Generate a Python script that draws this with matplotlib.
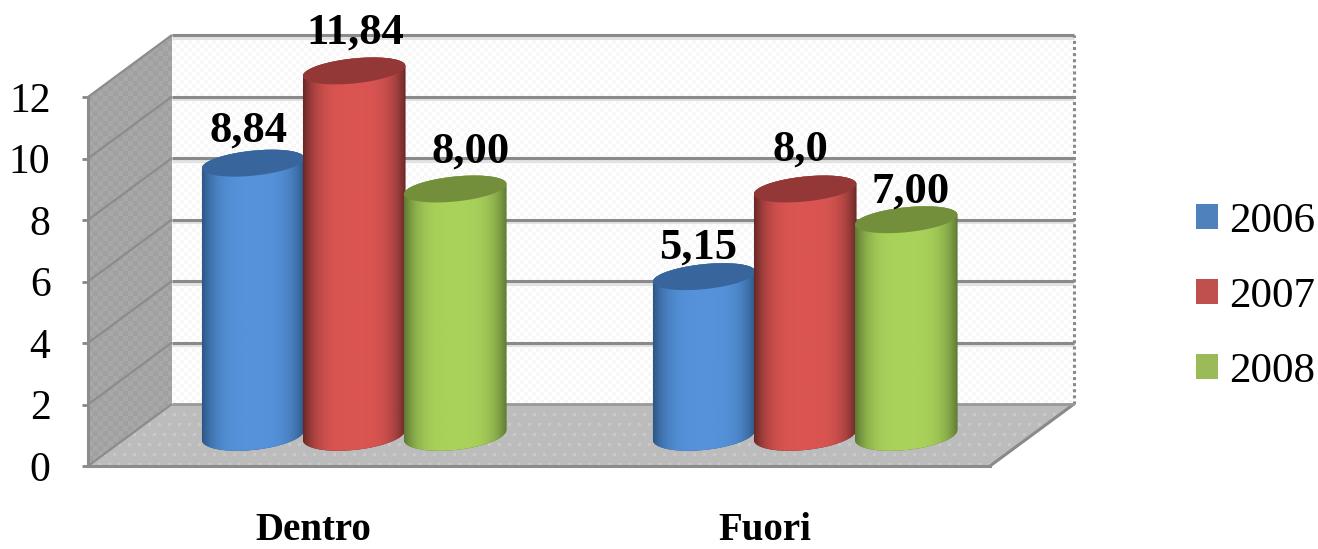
import numpy as np
import matplotlib
matplotlib.use("Agg")
import matplotlib.pyplot as plt
from matplotlib.colors import LinearSegmentedColormap
from matplotlib.patches import Patch, PathPatch, Polygon
from matplotlib.path import Path
from matplotlib.transforms import IdentityTransform

plt.rcParams["font.family"] = "Liberation Serif"

# Chart data
categories = ["Dentro", "Fuori"]
years = ["2006", "2007", "2008"]
values_2006 = [8.84, 5.15]
values_2007 = [11.84, 8.0]
values_2008 = [8.00, 7.00]
labels_2006 = ["8,84", "5,15"]
labels_2007 = ["11,84", "8,0"]
labels_2008 = ["8,00", "7,00"]
y_ticks = [0, 2, 4, 6, 8, 10, 12]

# Styling of each series: swatch, cap, and body shading from rim to centre
swatch = ["#4f81bd", "#c0504d", "#9bbb59"]
cap = ["#37659c", "#933837", "#748f3c"]
rim = ["#2c5685", "#672826", "#5d7833"]
core = ["#5592da", "#da5552", "#a9d25b"]
# Small per-label (dx, dy) shifts in pixels so captions avoid their neighbours
nudge = [[(-5, 22), (-6, 18)], [(1, 27), (-5, 28)], [(15, 26), (4, 17)]]

W, H = 1318, 549
fig = plt.figure(figsize=(W / 100, H / 100), dpi=100, facecolor="white")
ax = fig.add_axes([88 / W, (H - 466) / H, (990 - 88) / W, (466 - 97) / H])
ax.set_xlim(0, 2)
ax.set_ylim(0, 12)
ax.set_autoscale_on(False)
ax.patch.set_visible(False)

DEPTH = np.array([84.0, 62.0])
DISPLAY = IdentityTransform()


def project(x, v, d=0.0):
    """Display position of data point (x, v) pushed d of the way into the box."""
    return ax.transData.transform((x, v)) + d * DEPTH


def textured(poly_pts, base, spot, period, z, staggered=False):
    """Fill a polygon in display space with a small repeating two-tone texture."""
    poly = Polygon(poly_pts, closed=True, transform=DISPLAY, fc=base, ec="none", zorder=z)
    ax.add_patch(poly)
    poly.set_clip_on(False)
    xs, ys = np.array(poly_pts).T
    x0, x1, y0, y1 = xs.min(), xs.max(), ys.min(), ys.max()
    nx, ny = int(x1 - x0), int(y1 - y0)
    jj, ii = np.meshgrid(np.arange(nx), np.arange(ny))
    if staggered:
        mask = ((ii % period < 3) & (((jj + (ii // period) % 2 * period // 2) % period) < 3))
    else:
        mask = ((ii // period + jj // period) % 2 == 0)
    cmap = LinearSegmentedColormap.from_list("tex", [base, spot])
    im = ax.imshow(mask.astype(float), extent=(x0, x1, y0, y1), origin="lower", aspect="auto",
                   cmap=cmap, vmin=0, vmax=1, transform=DISPLAY, zorder=z + 0.1,
                   interpolation="bilinear")
    im.set_clip_box(fig.bbox)
    im.set_clip_path(poly)


def line3d(p, q, color, lw, z, **kw):
    ln = ax.plot([p[0], q[0]], [p[1], q[1]], color=color, lw=lw, transform=DISPLAY,
                 zorder=z, solid_capstyle="butt", clip_on=False, **kw)
    return ln


# Box: back wall, side wall and floor
textured([project(0, 0, 1), project(2, 0, 1), project(2, 12, 1), project(0, 12, 1)],
         "#ffffff", "#f8f8f8", 4, 1)
textured([project(0, 0, 0), project(0, 12, 0), project(0, 12, 1), project(0, 0, 1)],
         "#a0a0a0", "#a8a8a8", 5, 1.2)
textured([project(0, 0, 0), project(2, 0, 0), project(2, 0, 1), project(0, 0, 1)],
         "#bcbcbc", "#c8c8c8", 10, 1.5, staggered=True)

# Gridlines across both walls
for t in y_ticks[1:]:
    a, b = project(0, t, 1), project(2, t, 1)
    line3d(a + (0, -2.5), b + (0, -2.5), "#e2e2e2", 2.2, 2)
    line3d(a, b, "#8a8a8a", 2.2, 2.1)
    line3d(project(0, t, 0), a, "#8c8c8c", 1.6, 2)
line3d(project(2, 0, 1), project(2, 12, 1), "#8a8a8a", 2.2, 2.2, ls=(0, (1, 1)))
line3d(project(2, 0, 0), project(2, 0, 1), "#8a8a8a", 2.2, 2.2)
line3d(project(0, 0, 0), project(0, 0, 1), "#8c8c8c", 1.6, 2.2)
line3d(project(0, 0, 1), project(2, 0, 1), "#999999", 2.0, 2.2)

# Cylinders
HALF_W = 0.1135          # half width, axis units
STEP = 0.2240            # distance between neighbouring cylinders, axis units
CENTRE = 0.497           # group centre within its category slot
B, TILT = 12.5, 5.0      # cap half height and slant, pixels
BOTTOM_B = 15.0          # bottom rim bulges a little more than the cap
theta = np.linspace(0, 2 * np.pi, 121)


def ring(cx, cy, a, angles, b=B):
    return np.column_stack([cx + a * np.cos(angles), cy + b * np.sin(angles) + TILT * np.cos(angles)])


series = [values_2006, values_2007, values_2008]
series_labels = [labels_2006, labels_2007, labels_2008]
for s, (vals, caps) in enumerate(zip(series, series_labels)):
    cmap = LinearSegmentedColormap.from_list("body", [rim[s], core[s]])
    u = np.linspace(-1, 1, 200)
    shade = (1 - np.abs(u) ** 3.6)[None, :]
    for c, v in enumerate(vals):
        xc = c + CENTRE + (s - 1) * STEP
        cx, base = project(xc, 0, 0.5)
        _, top = project(xc, v, 0.5)
        a = project(xc + HALF_W, 0)[0] - project(xc, 0)[0]
        z = 5 + s + 0.01 * c
        # Outline of the body: front half of the bottom rim plus the whole top region
        lower = ring(cx, base, a, np.linspace(np.pi, 2 * np.pi, 60), BOTTOM_B)
        upper = ring(cx, top, a, np.linspace(0, np.pi, 60))
        outline = Path(np.vstack([lower, upper, lower[:1]]), closed=True)
        clip = PathPatch(outline, transform=DISPLAY, fc=rim[s], ec="none", zorder=z, clip_on=False)
        ax.add_patch(clip)
        im = ax.imshow(shade, extent=(cx - a, cx + a, base - 20, top + 20), aspect="auto",
                       cmap=cmap, vmin=0, vmax=1, transform=DISPLAY, zorder=z + 0.1,
                       interpolation="bilinear")
        im.set_clip_box(fig.bbox)
        im.set_clip_path(clip)
        lid = Polygon(ring(cx, top, a, theta), closed=True, transform=DISPLAY, fc=cap[s],
                      ec="none", zorder=z + 0.2, clip_on=False)
        ax.add_patch(lid)
        dx, dy = nudge[s][c]
        ax.text(cx + dx, top + dy, caps[c], transform=DISPLAY, ha="center", va="baseline",
                fontsize=32, fontweight="bold", color="black", zorder=20, clip_on=False)

# Axes furniture
ax.set_yticks(y_ticks)
ax.set_yticklabels([str(t) for t in y_ticks], fontsize=30)
ax.set_xticks([0.5, 1.5])
ax.set_xticklabels(categories, fontsize=28, fontweight="bold")
ax.tick_params(axis="x", length=0, pad=33)
ax.tick_params(axis="y", length=4, width=2, color="#868686", pad=23)
for side in ("top", "right"):
    ax.spines[side].set_visible(False)
for side in ("left", "bottom"):
    ax.spines[side].set_color("#8c8c8c")
    ax.spines[side].set_linewidth(2.2)
    ax.spines[side].set_zorder(3)

handles = [Patch(fc=col, ec="none", label=yr) for col, yr in zip(swatch, years)]
fig.legend(handles=handles, loc="upper left", bbox_to_anchor=(1196 / W, 1 - 202 / H), frameon=False,
           fontsize=31, handlelength=0.51, handleheight=0.51, handletextpad=0.25,
           labelspacing=0.85, borderpad=0, borderaxespad=0)

fig.savefig("out.png", dpi=100)
